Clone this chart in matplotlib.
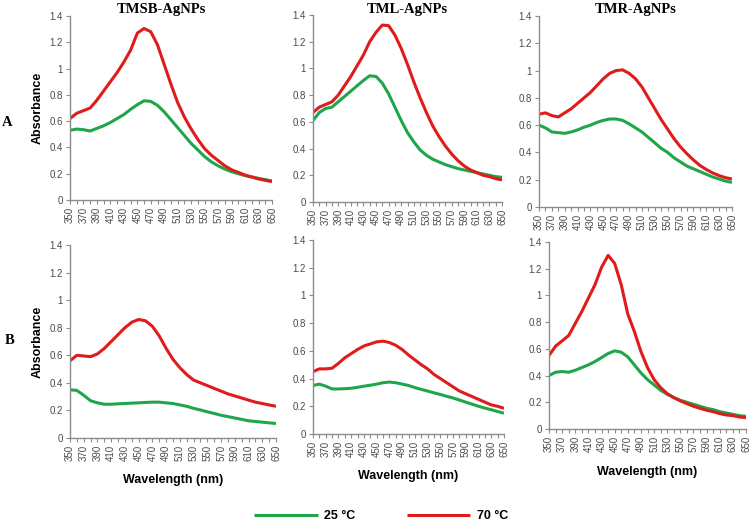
import numpy as np
import matplotlib
matplotlib.use("Agg")
import matplotlib.pyplot as plt
from matplotlib.ticker import MultipleLocator

wavelength = list(range(350, 651, 10))

titles = ["TMSB-AgNPs", "TML-AgNPs", "TMR-AgNPs"]
row_labels = ["A", "B"]
legend_labels = ["25 °C", "70 °C"]
x_tick_labels = [str(v) for v in range(350, 651, 20)]
y_ticks = [0, 0.2, 0.4, 0.6, 0.8, 1.0, 1.2, 1.4]
y_tick_labels = ["0", "0.2", "0.4", "0.6", "0.8", "1", "1.2", "1.4"]

# Row A
tmsb_a_25 = [0.53, 0.54, 0.535, 0.525, 0.545, 0.565, 0.59, 0.62, 0.65, 0.69, 0.725, 0.755, 0.75, 0.72, 0.67, 0.61,
             0.55, 0.49, 0.43, 0.38, 0.33, 0.29, 0.26, 0.235, 0.215, 0.20, 0.185, 0.175, 0.165, 0.155, 0.145]
tmsb_a_70 = [0.62, 0.66, 0.68, 0.70, 0.76, 0.83, 0.90, 0.97, 1.05, 1.14, 1.27, 1.305, 1.28, 1.18, 1.03, 0.88,
             0.74, 0.63, 0.54, 0.46, 0.39, 0.34, 0.30, 0.26, 0.23, 0.21, 0.19, 0.175, 0.16, 0.15, 0.14]
tml_a_25 = [0.61, 0.67, 0.70, 0.71, 0.75, 0.79, 0.83, 0.87, 0.91, 0.945, 0.94, 0.89, 0.81, 0.71, 0.61, 0.52,
            0.45, 0.39, 0.35, 0.32, 0.30, 0.28, 0.265, 0.25, 0.24, 0.23, 0.22, 0.21, 0.20, 0.19, 0.185]
tml_a_70 = [0.67, 0.71, 0.73, 0.75, 0.80, 0.87, 0.94, 1.02, 1.10, 1.20, 1.27, 1.325, 1.32, 1.25, 1.15, 1.03,
            0.90, 0.78, 0.67, 0.57, 0.49, 0.42, 0.36, 0.31, 0.27, 0.24, 0.22, 0.20, 0.19, 0.175, 0.165]
tmr_a_25 = [0.60, 0.58, 0.55, 0.545, 0.54, 0.55, 0.565, 0.585, 0.60, 0.62, 0.635, 0.645, 0.645, 0.635, 0.61, 0.58,
            0.55, 0.51, 0.47, 0.43, 0.40, 0.36, 0.33, 0.30, 0.28, 0.26, 0.24, 0.22, 0.205, 0.19, 0.18]
tmr_a_70 = [0.68, 0.69, 0.67, 0.66, 0.69, 0.72, 0.76, 0.80, 0.84, 0.89, 0.94, 0.98, 1.00, 1.005, 0.98, 0.94,
            0.88, 0.80, 0.72, 0.64, 0.57, 0.50, 0.44, 0.39, 0.345, 0.305, 0.275, 0.25, 0.23, 0.215, 0.205]

# Row B
tmsb_b_25 = [0.35, 0.345, 0.31, 0.27, 0.255, 0.245, 0.245, 0.248, 0.25, 0.253, 0.255, 0.258, 0.26, 0.26, 0.255, 0.25,
             0.24, 0.23, 0.215, 0.203, 0.19, 0.178, 0.165, 0.155, 0.145, 0.135, 0.125, 0.12, 0.115, 0.11, 0.105]
tmsb_b_70 = [0.56, 0.60, 0.595, 0.59, 0.61, 0.65, 0.70, 0.75, 0.80, 0.84, 0.86, 0.85, 0.81, 0.74, 0.65, 0.57,
             0.51, 0.46, 0.42, 0.40, 0.38, 0.36, 0.34, 0.32, 0.305, 0.29, 0.275, 0.26, 0.25, 0.24, 0.23]
tml_b_25 = [0.35, 0.36, 0.345, 0.325, 0.325, 0.327, 0.33, 0.337, 0.345, 0.352, 0.36, 0.37, 0.375, 0.37, 0.36, 0.35,
            0.335, 0.322, 0.31, 0.297, 0.285, 0.272, 0.26, 0.245, 0.23, 0.215, 0.20, 0.187, 0.175, 0.162, 0.15]
tml_b_70 = [0.45, 0.47, 0.47, 0.475, 0.51, 0.55, 0.58, 0.61, 0.635, 0.65, 0.665, 0.67, 0.66, 0.64, 0.61, 0.57,
            0.535, 0.50, 0.47, 0.43, 0.40, 0.37, 0.34, 0.31, 0.29, 0.27, 0.25, 0.23, 0.21, 0.20, 0.185]
tmr_b_25 = [0.40, 0.425, 0.43, 0.425, 0.44, 0.46, 0.48, 0.505, 0.535, 0.565, 0.585, 0.575, 0.54, 0.48, 0.42, 0.37,
            0.33, 0.29, 0.26, 0.235, 0.215, 0.20, 0.185, 0.17, 0.155, 0.145, 0.13, 0.12, 0.11, 0.10, 0.095]
tmr_b_70 = [0.55, 0.62, 0.66, 0.70, 0.79, 0.88, 0.98, 1.08, 1.21, 1.30, 1.24, 1.08, 0.86, 0.73, 0.58, 0.46,
            0.37, 0.31, 0.265, 0.235, 0.21, 0.19, 0.17, 0.155, 0.14, 0.13, 0.115, 0.105, 0.10, 0.09, 0.085]

series = [
    [(tmsb_a_25, tmsb_a_70), (tml_a_25, tml_a_70), (tmr_a_25, tmr_a_70)],
    [(tmsb_b_25, tmsb_b_70), (tml_b_25, tml_b_70), (tmr_b_25, tmr_b_70)],
]

W, H = 753, 525
# axes boxes in pixels: (left, right, top, bottom)
boxes = [
    [(70, 272, 16, 200), (313, 502, 15, 202), (539, 732, 16, 207)],
    [(70, 276, 245, 438), (313, 504, 240, 434), (549, 746, 242, 429)],
]
xlabel_pads = [9, 9, 10]

GREEN = "#1FA64A"
RED = "#E01B1B"
SPINE = "#8C8C8C"
TICKC = "#4A4A4A"

plt.rcParams["font.family"] = ["Liberation Sans", "DejaVu Sans"]
fig = plt.figure(figsize=(W / 100, H / 100), dpi=100)

lines_for_legend = None
for r in range(2):
    for c in range(3):
        l, rr, t, b = boxes[r][c]
        ax = fig.add_axes([l / W, 1 - b / H, (rr - l) / W, (b - t) / H])
        g, rd = series[r][c]
        lg, = ax.plot(wavelength, g, color=GREEN, lw=2.2, solid_capstyle="butt", solid_joinstyle="round")
        lr, = ax.plot(wavelength, rd, color=RED, lw=2.2, solid_capstyle="butt", solid_joinstyle="round")
        if lines_for_legend is None:
            lines_for_legend = [lg, lr]
        ax.set_xlim(350, 650)
        ax.set_ylim(0, 1.4)
        ax.set_xticks(list(range(350, 651, 20)))
        ax.set_xticklabels(x_tick_labels, rotation=90)
        ax.xaxis.set_minor_locator(MultipleLocator(10))
        ax.set_yticks(y_ticks)
        ax.set_yticklabels(y_tick_labels)
        for s in ["top", "right"]:
            ax.spines[s].set_visible(False)
        for s in ["left", "bottom"]:
            ax.spines[s].set_color(SPINE)
            ax.spines[s].set_linewidth(1.0)
        ax.tick_params(axis="both", which="both", direction="out", color=SPINE,
                       labelsize=7, labelcolor=TICKC, length=3, width=0.8, pad=2)
        if c == 0:
            ax.set_ylabel("Absorbance", fontsize=9, fontweight="bold", labelpad=4)
        if r == 1:
            ax.set_xlabel("Wavelength (nm)", fontsize=9, fontweight="bold", labelpad=xlabel_pads[c])
        if r == 0:
            fig.text(((l + rr) / 2 - (10 if c == 0 else 0)) / W, 1 - 9 / H, titles[c],
                     ha="center", va="center", fontsize=10.5, fontweight="bold",
                     family=["Liberation Serif", "DejaVu Serif"])

fig.text(7.5 / W, 1 - 122 / H, row_labels[0], ha="center", va="center", fontsize=10.5,
         fontweight="bold", family=["Liberation Serif", "DejaVu Serif"])
fig.text(10 / W, 1 - 340 / H, row_labels[1], ha="center", va="center", fontsize=10.5,
         fontweight="bold", family=["Liberation Serif", "DejaVu Serif"])

fig.legend(lines_for_legend, legend_labels, loc="center", bbox_to_anchor=(381 / W, 1 - 516 / H),
           ncol=2, frameon=False, handlelength=5.1, columnspacing=4.1, handletextpad=0.5,
           prop={"weight": "bold", "size": 9}, borderpad=0, borderaxespad=0)

fig.savefig("out.png", dpi=100)
